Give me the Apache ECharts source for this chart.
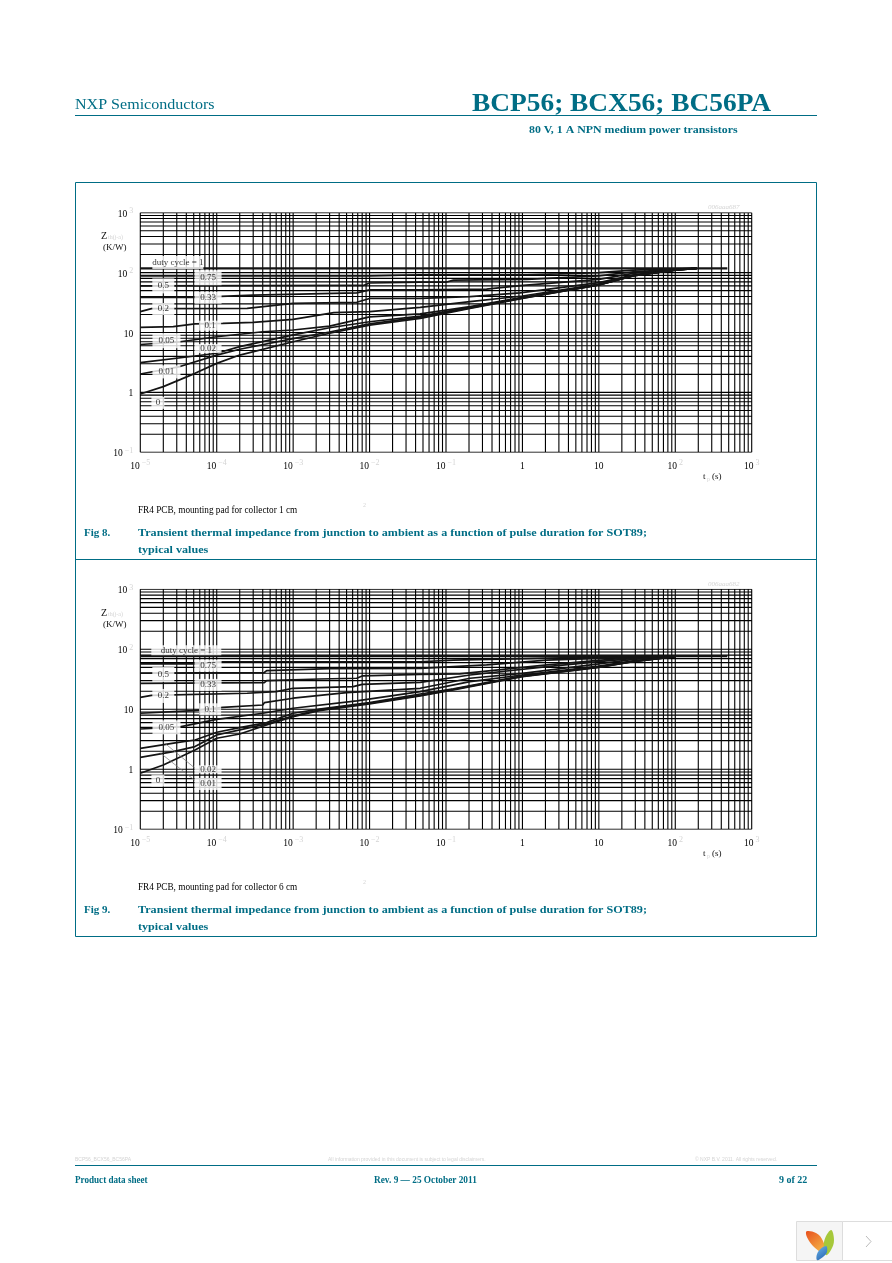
<!DOCTYPE html>
<html><head><meta charset="utf-8">
<style>html,body{margin:0;padding:0;background:#fff}#c{width:892px;height:1263px}</style>
<script src="https://cdn.jsdelivr.net/npm/echarts@6/dist/echarts.min.js"></script>
</head><body><div id="c"></div>
<script>
// ---- data: Figure 8, [pulse duration s, Zth K/W]
const f8_d1=[[1e-5,118],[480,118]];
const f8_d075=[[1e-5,88],[.01,88],[.02,90],[.046,92],[1.14,92],[3,95],[10,100],[28,110],[100,116],[190,118]];
const f8_d05=[[1e-5,60],[8.3e-3,61],[.01,67],[.046,69],[.1,69],[.125,75],[1.14,77],[10,88],[28,103],[100,113],[190,118]];
const f8_d033=[[1e-5,38.6],[5.2e-5,38.6],[3e-4,42],[6.8e-3,46],[.01,51.6],[.046,51.6],[.34,53],[.93,60.5],[10,77],[28,97],[100,114],[190,118]];
const f8_d02=[[1e-5,22.3],[1.4e-5,25],[2.5e-4,25.3],[1e-3,30.7],[6.8e-3,32],[.01,37],[.046,37],[.206,39.6],[.93,46],[10,68],[28,91],[100,112],[190,118]];
const f8_d01=[[1e-5,12.2],[2.7e-5,12.5],[5.2e-5,13.9],[1.2e-4,14.2],[3e-4,14.8],[1e-3,16.6],[3.4e-3,21.4],[.01,22.3],[.046,26.3],[.206,32.7],[1,40.7],[10,64.6],[28,90],[100,111],[190,118]];
const f8_d005=[[1e-5,6.3],[3.3e-5,7],[1e-4,8.5],[4e-4,10.3],[1e-3,11],[3e-3,12.8],[.01,18.2],[.046,20.4],[.206,27],[1,38.6],[10,63],[28,89],[100,110.5],[190,118]];
const f8_d002=[[1e-5,3.14],[5.2e-5,4.05],[1e-4,4.5],[2e-4,5.8],[1e-3,9.1],[3e-3,12],[.01,15.1],[.046,18.8],[.206,26.3],[1,38],[10,62.5],[28,88.5],[100,110],[190,118]];
const f8_d001=[[1e-5,2.03],[3.3e-5,2.7],[1e-4,4.2],[2e-4,5.25],[1e-3,7.9],[3e-3,10.2],[.01,13.9],[.046,18],[.206,25.7],[1,37.5],[10,62],[28,88],[100,110],[190,118]];
const f8_d0=[[1e-5,.94],[2e-5,1.25],[5.2e-5,2.08],[1e-4,3.05],[2e-4,4.2],[1e-3,7],[3e-3,9.7],[.01,13.3],[.046,17.2],[.206,25.3],[1,37.2],[10,62],[28,88],[100,110],[190,118]];
// ---- data: Figure 9
const f9_d1=[[1e-5,77],[480,77]];
const f9_d075=[[1e-5,57],[5.2e-5,57],[1.2e-4,62],[.046,62],[.125,66],[2.1,71],[28,75.5],[100,77]];
const f9_d05=[[1e-5,40],[4.2e-4,41],[4.5e-4,44],[3e-3,47.6],[.046,48],[.34,55],[2.1,66],[28,74],[100,77]];
const f9_d033=[[1e-5,27],[4.2e-4,27.8],[4.5e-4,30],[2.2e-3,32],[6.8e-3,32.9],[8e-3,36],[.046,38.3],[.15,38.8],[2.1,55],[28,73.6],[100,77]];
const f9_d02=[[1e-5,15.8],[1.4e-5,17.1],[2.5e-4,18.5],[6e-4,19.7],[1e-3,22.4],[6.1e-3,23.9],[8e-3,26],[.046,28.2],[.206,37.3],[2.1,51.4],[28,70.8],[100,76.5]];
const f9_d01=[[1e-5,8.6],[5e-5,9.5],[1.2e-4,10.8],[4e-4,11.8],[4.2e-4,12.9],[1e-3,15.3],[5e-3,19],[.046,22.4],[.206,32.9],[1,39.8],[10,57],[28,68],[100,76]];
const f9_d005=[[1e-5,4.7],[3.3e-5,5.1],[1e-4,6.8],[4e-4,8.6],[1e-3,10.4],[6.8e-3,13.8],[.046,19.7],[.206,28.9],[1,37.3],[10,52.7],[28,64],[100,75.5]];
const f9_d002=[[1e-5,2.24],[3e-5,2.78],[5.2e-5,3.08],[1e-4,4.14],[2e-4,4.94],[4.5e-4,6],[1e-3,8.6],[2.2e-3,10.1],[.01,12.9],[.046,18],[.125,22],[1,36],[10,51],[28,63],[100,75.5]];
const f9_d001=[[1e-5,1.58],[2.7e-5,1.97],[5.2e-5,2.39],[1e-4,3.73],[2e-4,4.53],[4.5e-4,5.7],[1e-3,7.8],[2.2e-3,9.75],[.01,12.6],[.046,17.1],[.125,21.5],[1,35.5],[10,50.5],[28,62.5],[100,75.5]];
const f9_d0=[[1e-5,.86],[2e-5,1.18],[5.2e-5,2.1],[1e-4,3.29],[2e-4,3.88],[4.5e-4,5.48],[1e-3,7.55],[2.2e-3,9.5],[.01,12.3],[.046,16.7],[.125,21],[1,35],[10,50],[28,62],[100,75.5]];
const f9_leader002=[[2.1e-5,2.71],[5.2e-5,1.04]];
const f9_leader001=[[1.8e-5,1.9],[5.2e-5,.65]];
// curve labels: text, t, Z
const f8_labels=[['duty cycle = 1',3.1e-5,147],['0.75',7.7e-5,82],['0.5',2e-5,60],['0.33',7.7e-5,38],['0.2',2e-5,24.7],['0.1',8.2e-5,13],['0.05',2.2e-5,7.3],['0.02',7.7e-5,5.4],['0.01',2.2e-5,2.2],['0',1.7e-5,.67]];
const f9_labels=[['duty cycle = 1',4e-5,96],['0.75',7.7e-5,53.4],['0.5',2e-5,38],['0.33',7.7e-5,25.5],['0.2',2e-5,16.7],['0.1',8.2e-5,10],['0.05',2.2e-5,5],['0.02',7.7e-5,1],['0.01',7.7e-5,.57],['0',1.7e-5,.65]];
const labelBoxes8=[[51,13],[27,15],[22,15],[27,12],[22,12],[22,10],[28,15],[27,9],[28,13],[13,12]];
const labelBoxes9=[[70,10],[27,12],[22,15],[27,12],[22,14],[22,12],[28,14],[27,8],[27,12],[13,12]];
const xDecades=[-5,-4,-3,-2,-1,0,1,2];
const yDecades=[-1,0,1,2];
const gridSteps=[1,2,3,4,5,6,7,8,9,10];
const xMin=1e-5,xMax=1e3,yMin=.1,yMax=1e3;

const TEAL='#006d85',FAINT='#d4d4d4';
const chart=echarts.init(document.getElementById('c'),null,{renderer:'canvas'});
const curves8=[f8_d075,f8_d05,f8_d033,f8_d02,f8_d01,f8_d005,f8_d002,f8_d001,f8_d0];
const curves9=[f9_d075,f9_d05,f9_d033,f9_d02,f9_d01,f9_d005,f9_d002,f9_d001,f9_d0];

function gridData(){
  const v=[],h=[];
  xDecades.forEach(d=>gridSteps.forEach(s=>{const t=s*Math.pow(10,d);v.push([t,yMin],[t,yMax],[NaN,NaN]);}));
  yDecades.forEach(d=>gridSteps.forEach(s=>{const z=s*Math.pow(10,d);h.push([xMin,z],[xMax,z],[NaN,NaN]);}));
  return v.concat(h);
}
function seriesFor(i,steady,curves,labels,boxes,leaders){
  const base={xAxisIndex:i,yAxisIndex:i,silent:true,animation:false};
  const out=[{...base,type:'line',symbol:'none',z:2,data:gridData(),connectNulls:false,lineStyle:{color:'#000',width:1.1}}];
  out.push({...base,type:'line',symbol:'none',z:3,data:steady,lineStyle:{color:'#141414',width:2.2}});
  curves.forEach(c=>out.push({...base,type:'line',symbol:'none',z:3,data:c,lineStyle:{color:'#141414',width:1.7}}));
  out.push({...base,type:'scatter',z:5,symbolSize:0,data:labels.map((l,k)=>({value:[l[1],l[2]],label:{show:true,position:'inside',formatter:l[0],
     width:boxes[k][0],height:boxes[k][1],lineHeight:boxes[k][1],align:'center',verticalAlign:'middle',backgroundColor:'#fff',
     color:'#000',fontFamily:'Liberation Serif',fontSize:9}}))});
  leaders.forEach(c=>out.push({...base,type:'line',symbol:'none',z:6,data:c,lineStyle:{color:'#777',width:0.7}}));
  return out;
}
function tickFmt(v){
  const e=Math.round(Math.log10(v));
  if(e===0) return '{b|1}';
  if(e===1) return '{b|10}';
  return '{b|10}{s| '+(e<0?'\u2212'+(-e):e)+'}';
}
const rich={b:{fontFamily:'Liberation Serif',fontSize:9.5,color:'#000',lineHeight:14},
            s:{fontFamily:'Liberation Serif',fontSize:8,color:FAINT,verticalAlign:'top',lineHeight:14,padding:[0,0,4,0]}};
function xAx(i){return {gridIndex:i,type:'log',logBase:10,min:xMin,max:xMax,interval:1,splitLine:{show:false},axisLine:{show:false},axisTick:{show:false},
  axisLabel:{formatter:tickFmt,rich,margin:7,showMinLabel:true,showMaxLabel:true,hideOverlap:false}};}
function yAx(i){return {gridIndex:i,type:'log',logBase:10,min:yMin,max:yMax,interval:1,splitLine:{show:false},axisLine:{show:false},axisTick:{show:false},
  axisLabel:{formatter:tickFmt,rich,margin:7,padding:[3,0,0,0],showMinLabel:true,showMaxLabel:true,align:'right'}};}

const T=(text,x,y,font,fill,sx,extra)=>({type:'text',x,y,scaleX:sx||1,z:10,silent:true,style:{text,font,fill,textVerticalAlign:'middle',...(extra||{})}});
const L=(x1,y1,x2,y2,c,w)=>({type:'line',z:9,silent:true,shape:{x1,y1,x2,y2},style:{stroke:c,lineWidth:w||1}});
const SB='bold 11px "Liberation Serif"';
function figureText(top,n,cm,code){
  const d=top;
  return [
    T('Z',101,236+d,'10px "Liberation Serif"','#111'),
    T('th(j-a)',108,237+d,'6px "Liberation Serif"',FAINT),
    T('(K/W)',103,248+d,'9px "Liberation Serif"','#111'),
    T(code,708,207+d,'italic 7px "Liberation Serif"',FAINT),
    T('t',703,477+d,'9px "Liberation Serif"','#111'),
    T('p',707,479+d,'6px "Liberation Serif"',FAINT),
    T('(s)',712,477+d,'9px "Liberation Serif"','#111'),
    T('FR4 PCB, mounting pad for collector '+cm+' cm',138,510+d,'9.5px "Liberation Serif"','#000',0.97),
    T('2',363,505+d,'6px "Liberation Serif"',FAINT),
    T('Fig '+n+'.',84,533+d,SB,TEAL),
    T('Transient thermal impedance from junction to ambient as a function of pulse duration for SOT89;',138,533+d,SB,TEAL,1.104),
    T('typical values',138,550+d,SB,TEAL,1.1)
  ];
}
const grad=(a,b)=>new echarts.graphic.LinearGradient(0,0,1,1,[{offset:0,color:a},{offset:1,color:b}]);
const page=[
  T('NXP Semiconductors',75,105,'15px "Liberation Serif"',TEAL,1.07),
  T('BCP56; BCX56; BC56PA',472,104,'bold 26px "Liberation Serif"',TEAL,1.053),
  L(75,115.5,817,115.5,TEAL),
  T('80 V, 1 A NPN medium power transistors',529,130,'bold 11px "Liberation Serif"',TEAL,1.078),
  {type:'rect',z:1,silent:true,shape:{x:75.5,y:182.5,width:741,height:754},style:{fill:'none',stroke:TEAL,lineWidth:1}},
  L(75,559.5,817,559.5,TEAL),
  ...figureText(0,8,1,'006aaa687'),
  ...figureText(377,9,6,'006aaa682'),
  T('BCP56_BCX56_BC56PA',75,1160,'5px "Liberation Sans"',FAINT),
  T('All information provided in this document is subject to legal disclaimers.',328,1160,'5px "Liberation Sans"',FAINT),
  T('\u00a9 NXP B.V. 2011. All rights reserved.',695,1160,'5px "Liberation Sans"',FAINT),
  L(75,1165.5,817,1165.5,TEAL),
  T('Product data sheet',75,1180,'bold 10px "Liberation Serif"',TEAL,0.91),
  T('Rev. 9 \u2014 25 October 2011',374,1180,'bold 10px "Liberation Serif"',TEAL,0.93),
  T('9 of 22',779,1180,'bold 10px "Liberation Serif"',TEAL),
  {type:'rect',z:9,silent:true,shape:{x:796.5,y:1221.5,width:46,height:39},style:{fill:'#f5f5f5',stroke:'#ddd',lineWidth:1}},
  {type:'rect',z:9,silent:true,shape:{x:842.5,y:1221.5,width:50,height:39},style:{fill:'#fff',stroke:'#ddd',lineWidth:1}},
  {type:'polyline',z:10,silent:true,shape:{points:[[866,1236],[871,1241.5],[866,1247]]},style:{stroke:'#bbb',fill:'none',lineWidth:1}},
  {type:'polygon',z:10,silent:true,shape:{smooth:0.4,points:[[806,1232],[816,1233],[823,1241],[825,1253],[813,1246]]},style:{fill:grad('#e8501e','#f6c24a')}},
  {type:'polygon',z:10,silent:true,shape:{smooth:0.4,points:[[831,1230],[834,1240],[831,1250],[826,1255],[824,1242]]},style:{fill:'#a6c83a'}},
  {type:'polygon',z:10,silent:true,shape:{smooth:0.4,points:[[826,1246],[827,1252],[823,1257],[817,1260],[818,1252]]},style:{fill:grad('#6db4e8','#1f5fae')}}
];
chart.setOption({
  animation:false,backgroundColor:'#fff',
  grid:[{left:140.3,top:212.7,width:611.4,height:239.6},{left:140.3,top:589.3,width:611.4,height:240}],
  xAxis:[xAx(0),xAx(1)],yAxis:[yAx(0),yAx(1)],
  series:[...seriesFor(0,f8_d1,curves8,f8_labels,labelBoxes8,[]),...seriesFor(1,f9_d1,curves9,f9_labels,labelBoxes9,[f9_leader002,f9_leader001])],
  graphic:{elements:page}
});
</script></body></html>
